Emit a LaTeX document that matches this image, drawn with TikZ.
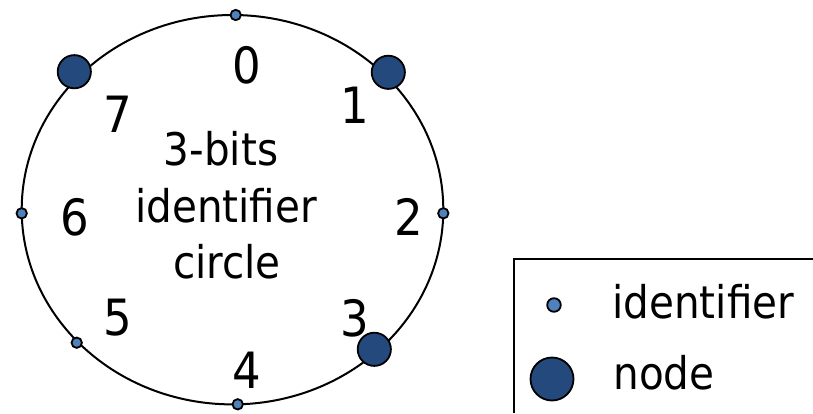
\documentclass[tikz,border=0pt]{standalone}
\usepackage{fontspec}
\setmainfont{DejaVu Sans Condensed}
\definecolor{idblue}{RGB}{79,129,189}
\definecolor{nodeblue}{RGB}{35,73,125}
\begin{document}
\begin{tikzpicture}[x=0.5pt,y=-0.5pt,
  iddot/.style={circle,draw=black,line width=0.9pt,fill=idblue,inner sep=0pt,minimum size=5.2pt},
  bigdot/.style={circle,draw=black,line width=0.9pt,fill=nodeblue,inner sep=0pt,minimum size=16.6pt},
  num/.style={font=\fontsize{25}{29}\selectfont,inner sep=0pt},
  word/.style={font=\fontsize{22.5}{26}\selectfont,inner sep=0pt,anchor=base}]
\useasboundingbox (0,0) rectangle (813,413);
% identifier circle
\coordinate (c) at (232.5,209.7);
\draw[line width=1pt] (c) ellipse [x radius=210.8, y radius=194.7];
% positions on the circle
\node[iddot]  (p0) at (235.7,15) {};
\node[bigdot] (p1) at (388.3,72.3) {};
\node[iddot]  (p2) at (443.3,213.3) {};
\node[bigdot] (p3) at (374.3,349.3) {};
\node[iddot]  (p4) at (237.7,404.3) {};
\node[iddot]  (p5) at (76.7,342.7) {};
\node[iddot]  (p6) at (21.7,213.3) {};
\node[bigdot] (p7) at (74.3,71.7) {};
% labels
\node[num] (n0) at (247,65) {0};
\node[num] (n1) at (355,105) {1};
\node[num] (n2) at (409,217) {2};
\node[num] (n3) at (355,318) {3};
\node[num] (n4) at (247,370) {4};
\node[num] (n5) at (118,318) {5};
\node[num] (n6) at (75,217) {6};
\node[num] (n7) at (118,114) {7};
% centre text
\node[word] (t1) at (221,165) {3-bits};
\node[word] (t2) at (226,222) {identifier};
\node[word] (t3) at (227,278) {circle};
% legend
\draw[line width=1pt] (514,413) -- (514,259.3) -- (813,259.3);
\node[iddot,minimum size=6.8pt] (lid) at (554,305) {};
\node[bigdot,minimum size=21.5pt] (lnode) at (552,379) {};
\node[word,anchor=base west] (lidt) at (612,318) {identifier};
\node[word,anchor=base west] (lnodet) at (613,389) {node};
\end{tikzpicture}
\end{document}
